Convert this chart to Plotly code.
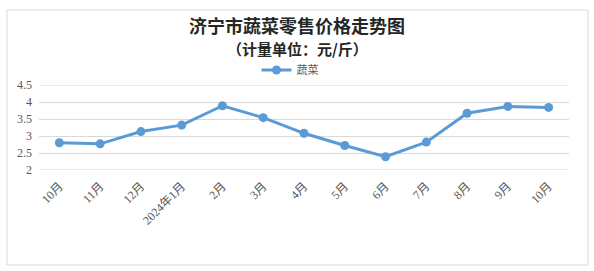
import plotly.graph_objects as go

months = ["10月", "11月", "12月", "2024年1月", "2月", "3月", "4月", "5月", "6月", "7月", "8月", "9月", "10月"]
veg = [2.80, 2.77, 3.13, 3.32, 3.89, 3.54, 3.08, 2.72, 2.39, 2.82, 3.67, 3.87, 3.84]
yticks = [2, 2.5, 3, 3.5, 4, 4.5]
ytick_text = ["2", "2.5", "3", "3.5", "4", "4.5"]

x_idx = list(range(len(months)))

fig = go.Figure()
fig.add_trace(go.Scatter(
    x=x_idx, y=veg, mode="lines+markers", name="蔬菜",
    line=dict(color="#5B9BD5", width=3),
    marker=dict(color="#5B9BD5", size=9),
))

W, H = 594, 271
L, R, T, B = 39, 25, 85, 101
pw, ph = W - L - R, H - T - B

fig.update_layout(
    width=W, height=H,
    margin=dict(l=L, r=R, t=T, b=B),
    paper_bgcolor="white", plot_bgcolor="white",
    font=dict(family="Liberation Serif, Noto Sans CJK SC", color="#595959", size=11),
    showlegend=True,
    legend=dict(orientation="h", x=(290 - L) / pw, xanchor="center", y=(170 - 70) / ph, yanchor="middle",
                font=dict(size=11, family="Noto Sans CJK SC", color="#595959"),
                bgcolor="rgba(0,0,0,0)", itemwidth=30),
    xaxis=dict(
        tickmode="array", tickvals=x_idx, ticktext=months, tickangle=-45,
        range=[-0.5, len(months) - 0.5], showgrid=False, zeroline=False,
        showline=False, ticks="", ticklabelstandoff=6,
        tickfont=dict(size=12, family="Liberation Serif, Noto Sans CJK SC", color="#595959"),
    ),
    yaxis=dict(
        range=[2, 4.5], tickmode="array", tickvals=yticks, ticktext=ytick_text,
        showgrid=True, gridcolor="#D9D9D9", gridwidth=1, zeroline=False, showline=False,
        ticks="", ticklabelstandoff=6,
        tickfont=dict(size=12, family="Liberation Serif", color="#595959"),
    ),
    annotations=[
        dict(text="<b>济宁市蔬菜零售价格走势图</b>", xref="paper", yref="paper",
             x=(297 - L) / pw, y=(170 - 25) / ph, xanchor="center", yanchor="middle",
             showarrow=False, font=dict(size=18, family="Noto Sans CJK SC", color="#262626")),
        dict(text="<b>（计量单位：元/斤）</b>", xref="paper", yref="paper",
             x=(297 - L) / pw, y=(170 - 48) / ph, xanchor="center", yanchor="middle",
             showarrow=False, font=dict(size=15, family="Noto Sans CJK SC", color="#262626")),
    ],
    shapes=[
        dict(type="rect", xref="paper", yref="paper",
             x0=(7 - L) / pw, x1=(588 - L) / pw, y0=(170 - 265) / ph, y1=(170 - 10) / ph,
             line=dict(color="#D9D9D9", width=1), fillcolor="rgba(0,0,0,0)", layer="below"),
        dict(type="line", xref="paper", yref="y", x0=0, x1=1, y0=2, y1=2,
             line=dict(color="#D9D9D9", width=1), layer="below"),
        dict(type="line", xref="paper", yref="y", x0=0, x1=1, y0=4.5, y1=4.5,
             line=dict(color="#D9D9D9", width=1), layer="below"),
    ],
)

fig.write_html("out.html")
